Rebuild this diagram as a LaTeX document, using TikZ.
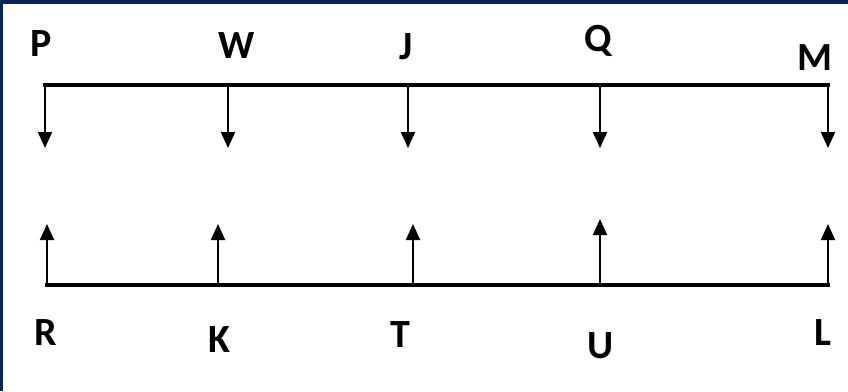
\documentclass[tikz,border=0pt]{standalone}
\usepackage{fontspec}
\setmainfont{Carlito}
\usetikzlibrary{arrows.meta}
\definecolor{navy}{HTML}{0A2456}
\tikzset{
  lbl/.style={font=\fontsize{40}{40}\selectfont\bfseries, inner sep=0pt, anchor=center},
  bar/.style={line width=4pt, line cap=rect},
  arr/.style={line width=2pt, -{Triangle[width=14pt,length=16pt]}},
}
\begin{document}
\begin{tikzpicture}[x=1pt,y=-1pt]
\useasboundingbox (0,0) rectangle (848,391);
\fill[white] (0,0) rectangle (848,391);
\fill[navy] (0,0) rectangle (848,4);
\fill[navy] (0,0) rectangle (3,391);
% labels
\node[lbl] (P) at (41,44) {P};
\node[lbl] (W) at (237,46) {W};
\node[lbl] (J) at (406,47) {J};
\node[lbl] (Q) at (598,41) {Q};
\node[lbl] (M) at (815,58) {M};
\node[lbl] (R) at (46,333) {R};
\node[lbl] (K) at (219,340) {K};
\node[lbl] (T) at (400,335) {T};
\node[lbl] (U) at (601,346) {U};
\node[lbl] (L) at (823,333) {L};
% top bar
\coordinate (tP) at (45,85);
\coordinate (tW) at (228,85);
\coordinate (tJ) at (408,85);
\coordinate (tQ) at (600,85);
\coordinate (tM) at (828,85);
\coordinate (aP) at (45,148);
\coordinate (aW) at (228,148);
\coordinate (aJ) at (408,148);
\coordinate (aQ) at (600,148);
\coordinate (aM) at (828,148);
\draw[bar] (tP) -- (tM);
\foreach \n in {P,W,J,Q,M} \draw[arr] (t\n) -- (a\n);
% bottom bar
\coordinate (bR) at (47,285);
\coordinate (bK) at (218,285);
\coordinate (bT) at (413,285);
\coordinate (bU) at (600,285);
\coordinate (bL) at (828,285);
\coordinate (cR) at (47,224);
\coordinate (cK) at (218,224);
\coordinate (cT) at (413,224);
\coordinate (cU) at (600,219);
\coordinate (cL) at (828,224);
\draw[bar] (bR) -- (bL);
\foreach \n in {R,K,T,U,L} \draw[arr] (b\n) -- (c\n);
\end{tikzpicture}
\end{document}
